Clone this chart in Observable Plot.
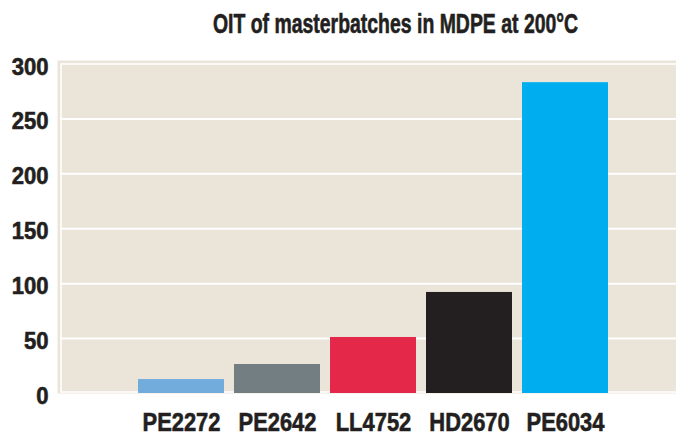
<!DOCTYPE html>
<html>
<head>
<meta charset="utf-8">
<script src="https://cdn.jsdelivr.net/npm/d3@7"></script>
<script src="https://cdn.jsdelivr.net/npm/@observablehq/plot@0.6"></script>
<style>
  html, body { margin: 0; padding: 0; background: #ffffff; }
  #chart svg { display: block; }
</style>
</head>
<body>
<div id="chart"></div>
<script>
const title = "OIT of masterbatches in MDPE at 200°C";
const categories = ["PE2272", "PE2642", "LL4752", "HD2670", "PE6034"];
const values = [12.7, 26.4, 51, 92, 283];
const colors = ["#72acdc", "#737e83", "#e4284a", "#231f20", "#00adee"];
const yTicks = [0, 50, 100, 150, 200, 250, 300];
const gridTicks = [50, 100, 150, 200, 250];

const data = categories.map((c, i) => ({category: c, value: values[i], color: colors[i]}));

const font = "'Liberation Sans', Arial, sans-serif";
const ink = "#231f20";
const beige = "#ebe4d9";

const chart = Plot.plot({
  width: 676,
  height: 435,
  marginLeft: 57,
  marginRight: 0,
  marginTop: 60,
  marginBottom: 42,
  style: {fontFamily: font, fontWeight: "bold", color: ink, background: "#ffffff", overflow: "visible"},
  x: {domain: categories, range: [132.2, 614.2], paddingInner: 0.1, paddingOuter: 0.05, label: null},
  y: {domain: [0, 300], range: [393, 63.5], label: null},
  marks: [
    Plot.frame({fill: beige}),
    Plot.frame({stroke: "#ffffff", strokeWidth: 1.5, insetLeft: 3.5, insetTop: 3.5, insetBottom: 1.5, insetRight: -2}),
    Plot.ruleY(gridTicks, {stroke: "#ffffff", strokeWidth: 2, insetLeft: 3}),
    Plot.barY(data, {x: "category", y: "value", fill: "color"}),
    Plot.axisY({ticks: yTicks, tickSize: 0, tickPadding: 9, fontSize: 23.5, dy: 3, fill: ink}),
    Plot.axisX({tickSize: 0, tickPadding: 19, fontSize: 25.5, fill: ink}),
    Plot.text([title], {frameAnchor: "top", dx: 28.5, dy: -28, lineAnchor: "bottom", fontSize: 27, fill: ink, fontWeight: "bold"})
  ]
});
document.getElementById("chart").appendChild(chart);

// condense glyphs horizontally (and thicken slightly) to mimic a condensed heavy face
const yStrings = yTicks.map(String);
d3.select(chart).selectAll("text").each(function() {
  const s = this.textContent;
  let k = null;
  if (s === title) k = 0.72;
  else if (categories.includes(s)) k = 0.86;
  else if (yStrings.includes(s)) k = 0.94;
  if (k == null) return;
  let t = this.getAttribute("transform");
  if (!t) {
    const x = this.getAttribute("x") || 0, y = this.getAttribute("y") || 0;
    this.removeAttribute("x"); this.removeAttribute("y");
    t = `translate(${x},${y})`;
  }
  this.setAttribute("transform", `${t} scale(${k},1)`);
  this.setAttribute("stroke", ink);
  this.setAttribute("stroke-width", "0.6");
});
</script>
</body>
</html>
